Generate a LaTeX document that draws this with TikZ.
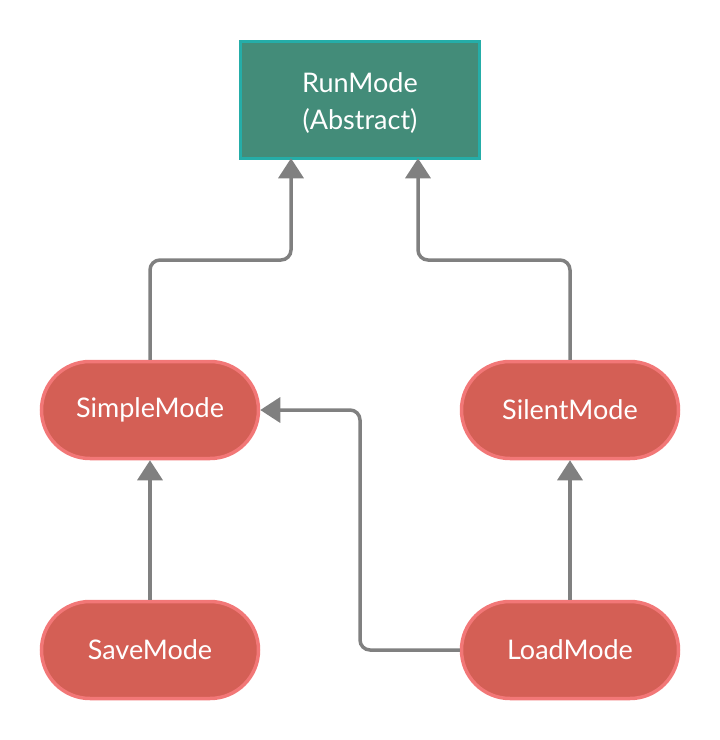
\documentclass[tikz,border=0pt]{standalone}
\usepackage{fontspec}
\setmainfont{Lato}
\usetikzlibrary{arrows.meta}
\definecolor{absfill}{HTML}{438C79}
\definecolor{absline}{HTML}{25ADA8}
\definecolor{modefill}{HTML}{D45F55}
\definecolor{modeline}{HTML}{F27777}
\definecolor{conn}{HTML}{808080}
\begin{document}
\begin{tikzpicture}[x=1pt,y=-1pt,
  absbox/.style={draw=absline,fill=absfill,line width=3.5pt,minimum width=239pt,minimum height=117pt,text=white,align=center,font=\fontsize{27}{37}\selectfont,inner sep=0pt},
  modebox/.style={draw=modeline,fill=modefill,line width=3.5pt,minimum width=217pt,minimum height=97pt,rounded corners=48.5pt,text=white,font=\fontsize{27}{30}\selectfont,inner sep=0pt},
  link/.style={draw=conn,line width=3.5pt,rounded corners=10pt,-{Triangle[length=20pt,width=25pt]}}]
\useasboundingbox (0,0) rectangle (720,740);
\node[absbox] (run) at (360,100) {};
\node[text=white,align=center,font=\fontsize{27}{37}\selectfont] (runlabel) at (360,103) {RunMode\\(Abstract)};
\node[modebox] (simple) at (150,410) {SimpleMode};
\node[modebox] (silent) at (570,410) {SilentMode};
\node[modebox] (save) at (150,650) {SaveMode};
\node[modebox] (load) at (570,650) {LoadMode};
\draw[link] (simple.north) -- (150,260) -- (291,260) -- (291,160-1.75);
\draw[link] (silent.north) -- (570,260) -- (418,260) -- (418,160-1.75);
\draw[link] (save.north) -- (simple.south);
\draw[link] (load.north) -- (silent.south);
\draw[link] (load.west) -- (360,650) -- (360,410) -- (simple.east);
\end{tikzpicture}
\end{document}
